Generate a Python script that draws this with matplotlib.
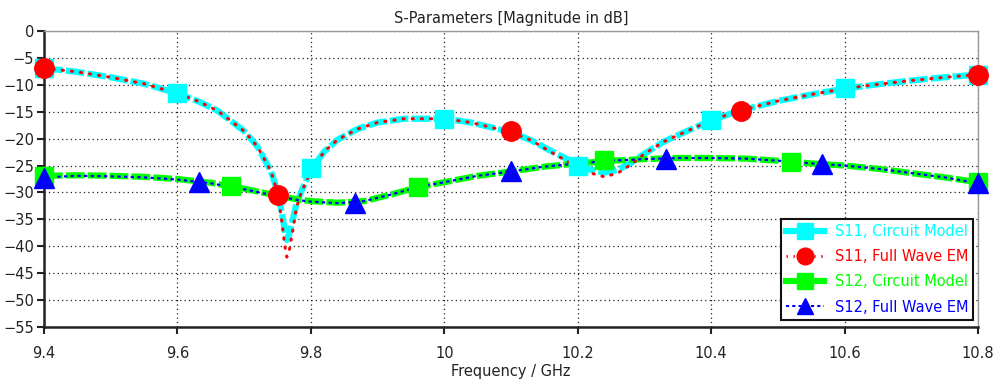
import matplotlib.pyplot as plt
from matplotlib.lines import Line2D

COLOR_S11_CM = "#00ffff"
COLOR_S11_EM = "#ff0000"
COLOR_S12_CM = "#00ff00"
COLOR_S12_EM = "#0000ff"

# S11 curves (GHz, dB)
freq_s11 = [9.4, 9.45, 9.5, 9.55, 9.6, 9.63, 9.66, 9.7, 9.72, 9.74, 9.75,
            9.756, 9.761, 9.764, 9.768, 9.773, 9.778, 9.785, 9.8, 9.82, 9.84,
            9.87, 9.9, 9.94, 10.0, 10.04, 10.08, 10.1, 10.13, 10.16, 10.2,
            10.22, 10.24, 10.26, 10.28, 10.3, 10.33, 10.36, 10.4, 10.44,
            10.5, 10.55, 10.6, 10.65, 10.7, 10.75, 10.8]
s11_circuit = [-6.9, -7.6, -8.6, -9.8, -11.6, -13.0, -14.8, -18.6, -21.5, -26.0, -29.8,
               -33.5, -37.0, -38.8, -37.5, -35.0, -32.3, -30.0, -25.8, -22.4, -20.2,
               -18.2, -17.0, -16.3, -16.3, -17.0, -18.2, -18.8, -20.3, -22.3, -24.8,
               -25.8, -26.3, -25.8, -24.5, -22.8, -20.5, -18.8, -16.6, -14.9,
               -13.0, -11.8, -10.7, -9.9, -9.2, -8.6, -8.1]
s11_fullwave = [-6.9, -7.6, -8.6, -9.8, -11.6, -13.0, -14.8, -18.6, -21.5, -26.0, -30.0,
                -35.0, -40.0, -42.0, -40.5, -37.0, -33.0, -30.2, -26.0, -22.4, -20.2,
                -18.2, -17.0, -16.3, -16.3, -17.0, -18.2, -18.8, -20.3, -22.5, -25.3,
                -26.4, -27.1, -26.4, -24.8, -22.8, -20.5, -18.8, -16.6, -14.9,
                -13.0, -11.8, -10.7, -9.9, -9.2, -8.6, -8.1]

# S12 curves
freq_s12 = [9.4, 9.45, 9.5, 9.55, 9.6, 9.65, 9.7, 9.75, 9.78, 9.8, 9.84, 9.88,
            9.92, 9.96, 10.0, 10.05, 10.1, 10.15, 10.2, 10.25, 10.3, 10.35,
            10.4, 10.45, 10.5, 10.55, 10.6, 10.65, 10.7, 10.75, 10.8]
s12_circuit = [-26.9, -26.8, -26.9, -27.1, -27.5, -28.2, -29.3, -30.6, -31.3, -31.6, -31.9, -31.6,
               -30.4, -29.0, -28.1, -26.9, -26.1, -25.2, -24.6, -24.1, -23.8, -23.6,
               -23.6, -23.7, -24.1, -24.6, -25.0, -25.6, -26.4, -27.2, -28.1]
s12_fullwave = [-27.2, -26.9, -27.0, -27.2, -27.6, -28.3, -29.4, -30.7, -31.4, -31.7, -32.0, -31.6,
                -30.4, -29.0, -28.1, -26.9, -26.1, -25.2, -24.6, -24.1, -23.8, -23.6,
                -23.6, -23.7, -24.1, -24.6, -25.0, -25.6, -26.4, -27.2, -28.3]

# marker positions
mk_s11_cm_f = [9.4, 9.6, 9.8, 10.0, 10.2, 10.4, 10.6, 10.8]
mk_s11_cm_v = [-6.9, -11.6, -25.5, -16.4, -25.0, -16.5, -10.6, -8.1]
mk_s11_em_f = [9.4, 9.75, 10.1, 10.444, 10.8]
mk_s11_em_v = [-6.9, -30.5, -18.6, -14.8, -8.2]
mk_s12_cm_f = [9.4, 9.68, 9.96, 10.24, 10.52, 10.8]
mk_s12_cm_v = [-27.0, -28.8, -29.0, -24.0, -24.3, -28.1]
mk_s12_em_f = [9.4, 9.633, 9.866, 10.1, 10.333, 10.566, 10.8]
mk_s12_em_v = [-27.3, -28.1, -32.0, -26.1, -23.7, -24.8, -28.3]

x_ticks = [9.4, 9.6, 9.8, 10.0, 10.2, 10.4, 10.6, 10.8]
x_tick_labels = ["9.4", "9.6", "9.8", "10", "10.2", "10.4", "10.6", "10.8"]
y_ticks = [0, -5, -10, -15, -20, -25, -30, -35, -40, -45, -50, -55]

legend_labels = ["S11, Circuit Model", "S11, Full Wave EM",
                 "S12, Circuit Model", "S12, Full Wave EM"]

plt.rcParams["font.family"] = "DejaVu Sans"

fig = plt.figure(figsize=(9.98, 3.9), dpi=100)
ax = fig.add_axes([0.0441, 0.1615, 0.9359, 0.759])

ax.grid(True, color="#222222", ls=(0, (1, 2.5)), lw=0.9)
ax.set_axisbelow(True)

ax.plot(freq_s11, s11_circuit, color=COLOR_S11_CM, lw=4.5, ls=(0, (3, 0.5)),
        solid_capstyle="butt", zorder=3)
ax.plot(freq_s11, s11_fullwave, color=COLOR_S11_EM, lw=2.2, ls=(0, (0.4, 2.6)),
        dash_capstyle="round", zorder=4)
ax.plot(freq_s12, s12_circuit, color=COLOR_S12_CM, lw=4.5, ls=(0, (3, 0.5)),
        zorder=3)
ax.plot(freq_s12, s12_fullwave, color=COLOR_S12_EM, lw=1.6, ls=(0, (1.5, 1.5)),
        zorder=4)

ax.plot(mk_s11_cm_f, mk_s11_cm_v, ls="none", marker="s", ms=13.5,
        color=COLOR_S11_CM, clip_on=False, zorder=5)
ax.plot(mk_s11_em_f, mk_s11_em_v, ls="none", marker="o", ms=14,
        color=COLOR_S11_EM, clip_on=False, zorder=6)
ax.plot(mk_s12_cm_f, mk_s12_cm_v, ls="none", marker="s", ms=13.5,
        color=COLOR_S12_CM, clip_on=False, zorder=5)
ax.plot(mk_s12_em_f, mk_s12_em_v, ls="none", marker="^", ms=14,
        color=COLOR_S12_EM, clip_on=False, zorder=6)

ax.set_xlim(9.4, 10.8)
ax.set_ylim(-55, 0)
ax.set_xticks(x_ticks)
ax.set_xticklabels(x_tick_labels)
ax.set_yticks(y_ticks)
ax.tick_params(axis="both", labelsize=10.5, colors="#222222", length=5, width=1.5,
               direction="out")
ax.tick_params(axis="x", pad=9)
ax.tick_params(axis="y", pad=2)

for side in ["left", "bottom"]:
    ax.spines[side].set_linewidth(1.8)
    ax.spines[side].set_color("#222222")
for side in ["top", "right"]:
    ax.spines[side].set_linewidth(1.0)
    ax.spines[side].set_color("#999999")

ax.set_title("S-Parameters [Magnitude in dB]", fontsize=10.5, color="#222222", pad=6)
ax.set_xlabel("Frequency / GHz", fontsize=10.5, color="#222222", labelpad=2)

handles = [
    Line2D([], [], color=COLOR_S11_CM, lw=4.5, marker="s", ms=12),
    Line2D([], [], color=COLOR_S11_EM, lw=2, ls=(0, (0.5, 2)), marker="o", ms=12),
    Line2D([], [], color=COLOR_S12_CM, lw=4.5, marker="s", ms=12),
    Line2D([], [], color=COLOR_S12_EM, lw=1.5, ls=(0, (1.5, 1.5)), marker="^", ms=12),
]
leg = ax.legend(handles, legend_labels, loc="lower right",
                bbox_to_anchor=(0.998, 0.015), fontsize=10.5, handlelength=2.6,
                fancybox=False, framealpha=1, edgecolor="#111111",
                borderpad=0.35, labelspacing=0.7, handletextpad=0.75,
                borderaxespad=0.2)
leg.get_frame().set_linewidth(1.5)
for text, c in zip(leg.get_texts(), [COLOR_S11_CM, COLOR_S11_EM, COLOR_S12_CM, COLOR_S12_EM]):
    text.set_color(c)
leg.set_zorder(10)

plt.savefig("out.png", dpi=100)
plt.close(fig)
